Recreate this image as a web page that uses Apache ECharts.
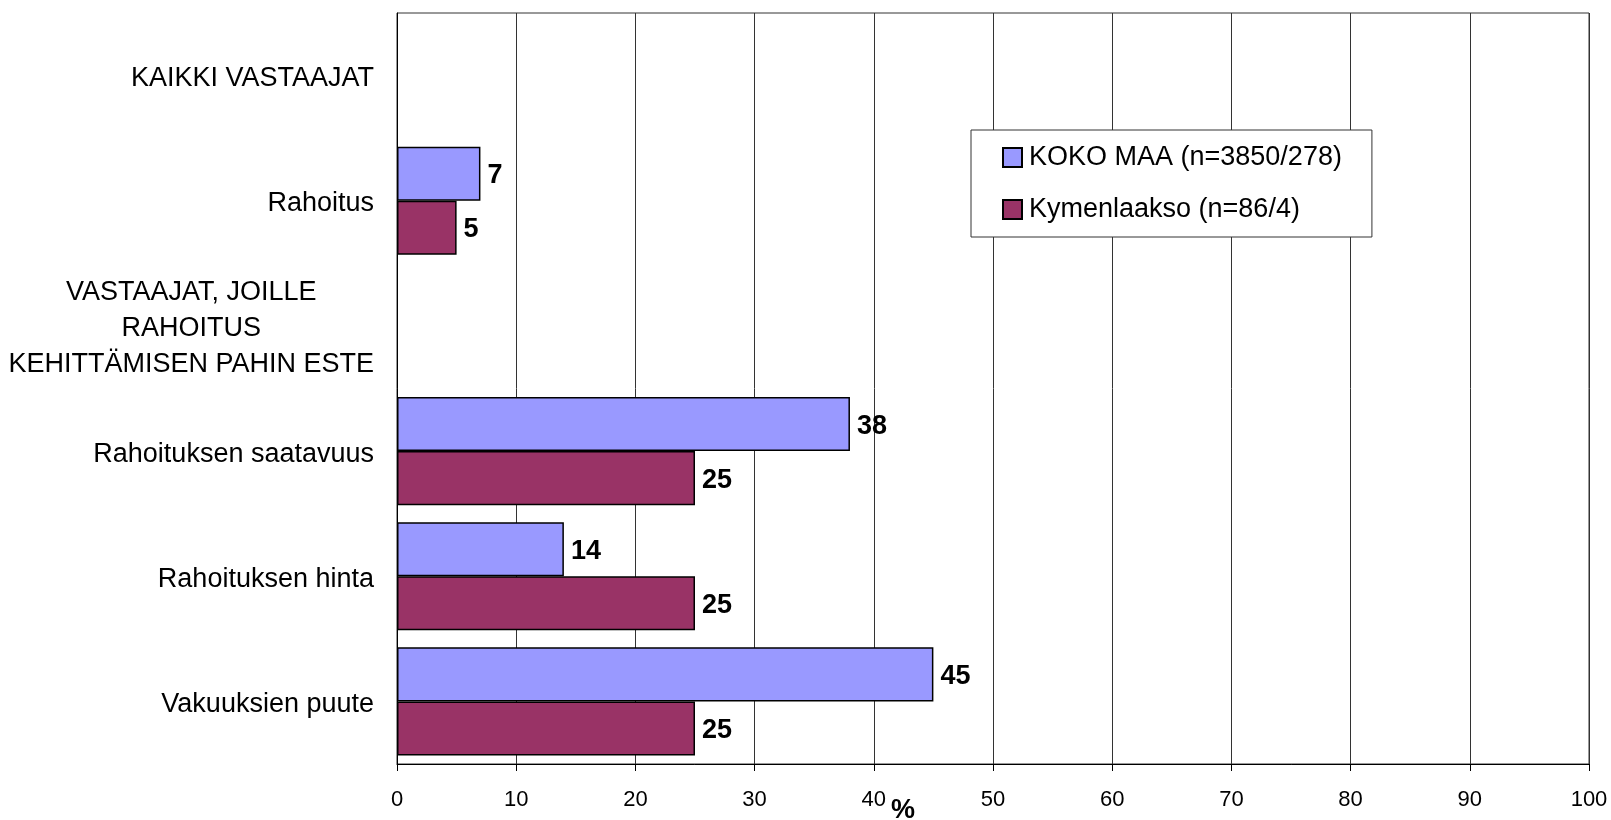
<!DOCTYPE html>
<html>
<head>
<meta charset="utf-8">
<script src="https://cdn.jsdelivr.net/npm/echarts@6/dist/echarts.min.js"></script>
<style>
html,body{margin:0;padding:0;background:#fff;}
#chart{width:1611px;height:820px;}
</style>
</head>
<body>
<div id="chart"></div>
<script>
var categories = ['KAIKKI VASTAAJAT', 'Rahoitus', 'VASTAAJAT, JOILLE\nRAHOITUS\nKEHITTÄMISEN PAHIN ESTE', 'Rahoituksen saatavuus', 'Rahoituksen hinta', 'Vakuuksien puute'];
var seriesNames = ['KOKO MAA (n=3850/278)', 'Kymenlaakso (n=86/4)'];
var kokoMaa = ['-', 7, '-', 38, 14, 45];
var kymenlaakso = ['-', 5, '-', 25, 25, 25];
var xTicks = {min: 0, max: 100, interval: 10};
var axisUnit = '%';

var chart = echarts.init(document.getElementById('chart'), null, {renderer: 'canvas'});
var FONT = '"Liberation Sans", Arial, sans-serif';
function barSeries(name, data, color) {
  return {
    name: name,
    type: 'bar',
    data: data,
    barGap: '0%',
    barCategoryGap: '13.6%',
    itemStyle: {color: color, borderColor: '#000', borderWidth: 1.5},
    label: {
      show: true, position: 'right', distance: 7, offset: [0, 2],
      fontFamily: FONT, fontSize: 27, fontWeight: 'bold', color: '#000'
    }
  };
}
var option = {
  animation: false,
  backgroundColor: '#fff',
  grid: {left: 397, right: 22, top: 13, bottom: 56, show: true, borderColor: '#333', borderWidth: 1, containLabel: false},
  legend: {
    orient: 'vertical', left: 971, top: 130,
    backgroundColor: '#fff', borderColor: '#333', borderWidth: 1,
    padding: [14, 30, 14, 31],
    icon: 'rect',
    itemWidth: 19, itemHeight: 19, itemGap: 25,
    textStyle: {fontFamily: FONT, fontSize: 27, color: '#000', lineHeight: 26, padding: [0, 0, 0, 2]},
    data: seriesNames
  },
  xAxis: {
    type: 'value', min: xTicks.min, max: xTicks.max, interval: xTicks.interval,
    axisLine: {show: true, lineStyle: {color: '#000', width: 1}},
    axisTick: {show: true, length: 7, lineStyle: {color: '#000'}},
    splitLine: {show: true, lineStyle: {color: '#333', width: 1}},
    axisLabel: {fontFamily: FONT, fontSize: 22, color: '#000', margin: 25}
  },
  yAxis: {
    type: 'category', inverse: true, data: categories,
    axisLine: {show: true, lineStyle: {color: '#000', width: 1}},
    axisTick: {show: false},
    splitLine: {show: false},
    axisLabel: {
      fontFamily: FONT, fontSize: 27, color: '#000', margin: 23, interval: 0,
      padding: [6, 0, 0, 0],
      formatter: function (v) {
        return v.split('\n').map(function (l) { return '{c|' + l + '}'; }).join('\n');
      },
      rich: {c: {fontFamily: FONT, fontSize: 27, color: '#000', align: 'center', lineHeight: 36}}
    }
  },
  graphic: [{
    type: 'text', left: 891, top: 797,
    style: {text: axisUnit, font: 'bold 27px ' + FONT, fill: '#000'}
  }],
  series: [
    barSeries(seriesNames[0], kokoMaa, '#9999FF'),
    barSeries(seriesNames[1], kymenlaakso, '#993366')
  ]
};
chart.setOption(option);
</script>
</body>
</html>
